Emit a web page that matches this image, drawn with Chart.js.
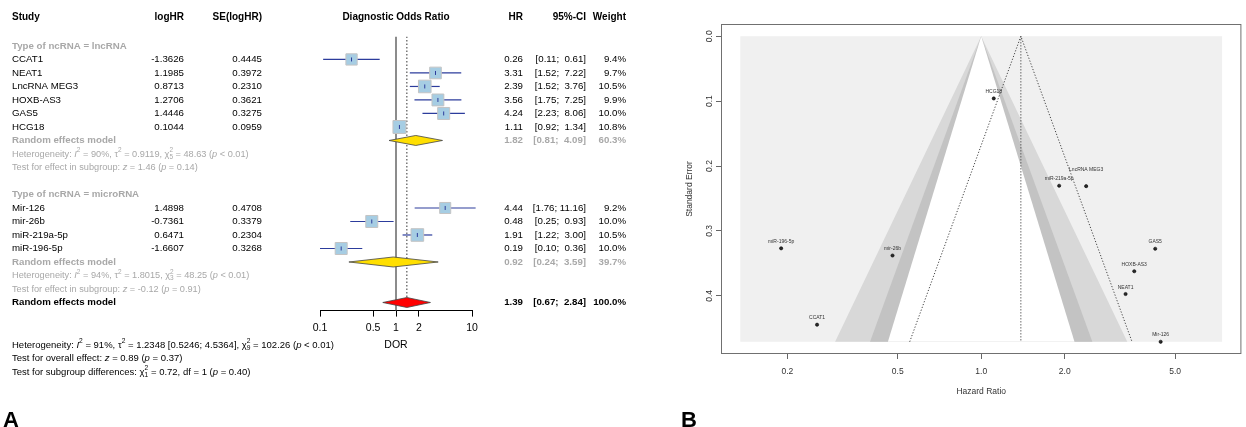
<!DOCTYPE html>
<html>
<head>
<meta charset="utf-8">
<script src="https://cdn.jsdelivr.net/npm/chart.js@4.4.1/dist/chart.umd.min.js"></script>
<style>
  html, body { margin: 0; padding: 0; background: #fff; }
  #wrap { position: relative; width: 1246px; height: 427px; overflow: hidden; }
  canvas { position: absolute; top: 0; }
  #forest { left: 0; }
  #funnel { left: 660px; }
</style>
</head>
<body>
<div id="wrap">
  <canvas id="forest" width="660" height="427"></canvas>
  <canvas id="funnel" width="586" height="427"></canvas>
</div>
<script>
// --- Data ---
const studies = ['CCAT1', 'NEAT1', 'LncRNA MEG3', 'HOXB-AS3', 'GAS5', 'HCG18', 'Mir-126', 'mir-26b', 'miR-219a-5p', 'miR-196-5p'];
const ncType = ['lncRNA', 'lncRNA', 'lncRNA', 'lncRNA', 'lncRNA', 'lncRNA', 'microRNA', 'microRNA', 'microRNA', 'microRNA'];
const logHR = [-1.3626, 1.1985, 0.8713, 1.2706, 1.4446, 0.1044, 1.4898, -0.7361, 0.6471, -1.6607];
const seLogHR = [0.4445, 0.3972, 0.2310, 0.3621, 0.3275, 0.0959, 0.4708, 0.3379, 0.2304, 0.3268];
const hr = [0.26, 3.31, 2.39, 3.56, 4.24, 1.11, 4.44, 0.48, 1.91, 0.19];
const ciLow = [0.11, 1.52, 1.52, 1.75, 2.23, 0.92, 1.76, 0.25, 1.22, 0.10];
const ciHigh = [0.61, 7.22, 3.76, 7.25, 8.06, 1.34, 11.16, 0.93, 3.00, 0.36];
const weights = [9.4, 9.7, 10.5, 9.9, 10.0, 10.8, 9.2, 10.0, 10.5, 10.0];

const groups = ['lncRNA', 'microRNA'];
const groupHR = [1.82, 0.92];
const groupLow = [0.81, 0.24];
const groupHigh = [4.09, 3.59];
const groupWeight = [60.3, 39.7];
const overallHR = 1.39;
const overallLow = 0.67;
const overallHigh = 2.84;

const forestTicks = [0.1, 0.5, 1, 2, 10];
const funnelTicksX = [0.2, 0.5, 1, 2, 5];
const funnelTicksY = [0, 0.1, 0.2, 0.3, 0.4];
const contourZ = [2.576, 1.96, 1.645];     // p = 0.01, 0.05, 0.10
const contourLogRange = [-2, 2];

const FONT = '"Liberation Sans", Arial, sans-serif';
Chart.defaults.font.family = FONT;
const GREY = '#a8a8a8';
const BLUE = '#2c3c9c';

// rich text pieces: plain string, {it: 'p'}, {sup: '2', sub: '5'}
const it = t => ({ it: t });
const ss = (sup, sub) => ({ sup, sub });

const groupHet = [
    ['Heterogeneity: ', it('I'), ss('2'), ' = 90%, \u03c4', ss('2'), ' = 0.9119, \u03c7', ss('2', '5'), ' = 48.63 (', it('p'), ' < 0.01)'],
    ['Heterogeneity: ', it('I'), ss('2'), ' = 94%, \u03c4', ss('2'), ' = 1.8015, \u03c7', ss('2', '3'), ' = 48.25 (', it('p'), ' < 0.01)']
];
const groupTest = [
    ['Test for effect in subgroup: ', it('z'), ' = 1.46 (', it('p'), ' = 0.14)'],
    ['Test for effect in subgroup: ', it('z'), ' = -0.12 (', it('p'), ' = 0.91)']
];
const overallNotes = [
    ['Heterogeneity: ', it('I'), ss('2'), ' = 91%, \u03c4', ss('2'), ' = 1.2348 [0.5246; 4.5364], \u03c7', ss('2', '9'), ' = 102.26 (', it('p'), ' < 0.01)'],
    ['Test for overall effect: ', it('z'), ' = 0.89 (', it('p'), ' = 0.37)'],
    ['Test for subgroup differences: \u03c7', ss('2', '1'), ' = 0.72, df = 1 (', it('p'), ' = 0.40)']
];

// --- Row layout of the forest plot ---
const studyRow = [], titleRow = [], remRow = [];
let r = 0;
groups.forEach((g, gi) => {
    titleRow.push(r); r++;
    studies.forEach((s, i) => { if (ncType[i] === g) { studyRow[i] = r; r++; } });
    remRow.push(r); r += 3;
    if (gi < groups.length - 1) r++;
});
const overallRow = r;

function drawRich(ctx, x, y, segs, size, color, bold) {
    let cx = x;
    ctx.fillStyle = color;
    ctx.textAlign = 'left';
    ctx.textBaseline = 'middle';
    segs.forEach(s => {
        if (typeof s === 'string') s = { t: s };
        const w8 = bold ? 'bold ' : '';
        if (s.sup !== undefined) {
            ctx.font = w8 + (size * 0.7) + 'px ' + FONT;
            let w = ctx.measureText(s.sup).width;
            ctx.fillText(s.sup, cx, y - size * 0.4);
            if (s.sub) {
                ctx.fillText(s.sub, cx, y + size * 0.3);
                w = Math.max(w, ctx.measureText(s.sub).width);
            }
            cx += w;
        } else {
            const t = s.it !== undefined ? s.it : s.t;
            ctx.font = (s.it !== undefined ? 'italic ' : '') + w8 + size + 'px ' + FONT;
            ctx.fillText(t, cx, y);
            cx += ctx.measureText(t).width;
        }
    });
}

function txt(ctx, t, x, y, align, size, color, bold) {
    ctx.font = (bold ? 'bold ' : '') + size + 'px ' + FONT;
    ctx.fillStyle = color;
    ctx.textAlign = align;
    ctx.textBaseline = 'middle';
    ctx.fillText(t, x, y);
}

const ciText = (lo, hi) => '[' + lo.toFixed(2) + '; ' + (hi < 10 ? ' ' : '') + hi.toFixed(2) + ']';

// --- Forest plot ---
const forestText = {
    id: 'forestText',
    afterDraw(chart) {
        const ctx = chart.ctx;
        const py = v => chart.scales.y.getPixelForValue(v);
        const fs = 9.7;
        const col = { study: 12, logHR: 184, se: 262, hr: 523, ci: 586, w: 626 };
        ctx.save();
        let y = py(-2.15);
        txt(ctx, 'Study', col.study, y, 'left', 10, '#000', true);
        txt(ctx, 'logHR', col.logHR, y, 'right', 10, '#000', true);
        txt(ctx, 'SE(logHR)', col.se, y, 'right', 10, '#000', true);
        txt(ctx, 'Diagnostic Odds Ratio', chart.scales.x.getPixelForValue(1), y, 'center', 10, '#000', true);
        txt(ctx, 'HR', col.hr, y, 'right', 10, '#000', true);
        txt(ctx, '95%-CI', col.ci, y, 'right', 10, '#000', true);
        txt(ctx, 'Weight', col.w, y, 'right', 10, '#000', true);

        groups.forEach((g, gi) => {
            txt(ctx, 'Type of ncRNA = ' + g, col.study, py(titleRow[gi]), 'left', fs, GREY, true);
            y = py(remRow[gi]);
            txt(ctx, 'Random effects model', col.study, y, 'left', fs, GREY, true);
            txt(ctx, groupHR[gi].toFixed(2), col.hr, y, 'right', fs, GREY, true);
            txt(ctx, ciText(groupLow[gi], groupHigh[gi]), col.ci, y, 'right', fs, GREY, true);
            txt(ctx, groupWeight[gi].toFixed(1) + '%', col.w, y, 'right', fs, GREY, true);
            drawRich(ctx, col.study, py(remRow[gi] + 1), groupHet[gi], 9.2, GREY, false);
            drawRich(ctx, col.study, py(remRow[gi] + 2), groupTest[gi], 9.2, GREY, false);
        });

        studies.forEach((s, i) => {
            y = py(studyRow[i]);
            txt(ctx, s, col.study, y, 'left', fs, '#000', false);
            txt(ctx, logHR[i].toFixed(4), col.logHR, y, 'right', fs, '#000', false);
            txt(ctx, seLogHR[i].toFixed(4), col.se, y, 'right', fs, '#000', false);
            txt(ctx, hr[i].toFixed(2), col.hr, y, 'right', fs, '#000', false);
            txt(ctx, ciText(ciLow[i], ciHigh[i]), col.ci, y, 'right', fs, '#000', false);
            txt(ctx, weights[i].toFixed(1) + '%', col.w, y, 'right', fs, '#000', false);
        });

        y = py(overallRow);
        txt(ctx, 'Random effects model', col.study, y, 'left', fs, '#000', true);
        txt(ctx, overallHR.toFixed(2), col.hr, y, 'right', fs, '#000', true);
        txt(ctx, ciText(overallLow, overallHigh), col.ci, y, 'right', fs, '#000', true);
        txt(ctx, '100.0%', col.w, y, 'right', fs, '#000', true);

        overallNotes.forEach((line, k) => {
            drawRich(ctx, col.study, py(overallRow + 3.15 + k), line, 9.5, '#000', false);
        });

        ctx.font = 'bold 22px ' + FONT;
        ctx.fillStyle = '#000';
        ctx.textAlign = 'left';
        ctx.textBaseline = 'alphabetic';
        ctx.fillText('A', 3, 426.5);
        ctx.restore();
    }
};

const forestSets = [];
forestSets.push({
    data: [{ x: 1, y: -0.7 }, { x: 1, y: overallRow + 0.6 }],
    showLine: true, borderColor: '#8c8c8c', borderWidth: 2, pointRadius: 0, order: 10
});
forestSets.push({
    data: [{ x: overallHR, y: -0.7 }, { x: overallHR, y: overallRow + 0.3 }],
    showLine: true, borderColor: '#333', borderWidth: 1, borderDash: [1.5, 2], pointRadius: 0, order: 9
});
studies.forEach((s, i) => {
    forestSets.push({
        data: [{ x: ciLow[i], y: studyRow[i] }, { x: ciHigh[i], y: studyRow[i] }],
        showLine: true, borderColor: BLUE, borderWidth: 1.2, pointRadius: 0, clip: false, order: 8
    });
});
forestSets.push({
    data: studies.map((s, i) => ({ x: hr[i], y: studyRow[i] })),
    pointStyle: 'rect', pointRadius: weights.map(w => w * 1.2 / Math.SQRT2),
    backgroundColor: '#a6cde3', borderColor: '#c4c4c4', borderWidth: 1, order: 6
});
forestSets.push({
    data: studies.map((s, i) => ({ x: hr[i], y: studyRow[i] })),
    pointStyle: 'line', rotation: 90, pointRadius: 2,
    borderColor: BLUE, borderWidth: 1, order: 5
});
function diamond(est, lo, hi, row) {
    return [{ x: lo, y: row }, { x: est, y: row - 0.37 }, { x: hi, y: row }, { x: est, y: row + 0.37 }, { x: lo, y: row }];
}
groups.forEach((g, gi) => {
    forestSets.push({
        data: diamond(groupHR[gi], groupLow[gi], groupHigh[gi], remRow[gi]),
        showLine: true, fill: 'shape', backgroundColor: '#ffdf00', borderColor: '#444',
        borderWidth: 0.8, pointRadius: 0, order: 2
    });
});
forestSets.push({
    data: diamond(overallHR, overallLow, overallHigh, overallRow),
    showLine: true, fill: 'shape', backgroundColor: '#ff0000', borderColor: '#444',
    borderWidth: 0.8, pointRadius: 0, order: 1
});

new Chart(document.getElementById('forest'), {
    type: 'scatter',
    data: { datasets: forestSets },
    options: {
        responsive: false, animation: false, events: [],
        layout: { padding: { left: 320, right: 188, top: 36.5, bottom: 75.4 } },
        plugins: { legend: { display: false }, tooltip: { enabled: false } },
        scales: {
            x: {
                type: 'logarithmic', min: 0.1, max: 10,
                afterBuildTicks: s => { s.ticks = forestTicks.map(v => ({ value: v })); },
                afterFit: s => { s.height = 41; },
                ticks: { callback: v => String(v), autoSkip: false, maxRotation: 0, padding: 5, color: '#000', font: { size: 10.5 } },
                grid: { drawOnChartArea: false, drawTicks: true, tickLength: 6, color: '#000' },
                border: { display: true, color: '#000', width: 1 },
                title: { display: true, text: 'DOR', color: '#000', font: { size: 10.5 }, padding: 0 }
            },
            y: { type: 'linear', reverse: true, min: -0.7, max: overallRow + 0.6, display: false }
        }
    },
    plugins: [forestText]
});

// --- Funnel plot ---
const seMax = Math.max(...seLogHR);
const teOverall = Math.log(overallHR);
const xPad = 0.04 * (contourLogRange[1] - contourLogRange[0]);
const labelLift = { 'LncRNA MEG3': 10 };

const funnelSets = [];
funnelSets.push({
    data: studies.map((s, i) => ({ x: Math.exp(logHR[i]), y: seLogHR[i] })),
    pointRadius: 1.6, backgroundColor: '#2a2a2a', borderColor: '#000', borderWidth: 0.6, order: 0
});
funnelSets.push({
    data: [{ x: Math.exp(teOverall - 1.96 * seMax), y: seMax }, { x: overallHR, y: 0 }, { x: Math.exp(teOverall + 1.96 * seMax), y: seMax }],
    showLine: true, borderColor: '#444', borderWidth: 1, borderDash: [1.2, 1.8], pointRadius: 0, order: 1
});
funnelSets.push({
    data: [{ x: overallHR, y: 0 }, { x: overallHR, y: seMax }],
    showLine: true, borderColor: '#444', borderWidth: 1, borderDash: [1.2, 1.8], pointRadius: 0, order: 1
});
const contourColors = ['#d8d8d8', '#c3c3c3', '#ffffff'];
contourZ.forEach((z, k) => {
    funnelSets.push({
        data: [{ x: Math.exp(-z * seMax), y: seMax }, { x: 1, y: 0 }, { x: Math.exp(z * seMax), y: seMax }, { x: Math.exp(-z * seMax), y: seMax }],
        showLine: true, fill: 'shape', backgroundColor: contourColors[k], borderWidth: 0, pointRadius: 0, order: 4 - k
    });
});
funnelSets.push({
    data: [
        { x: Math.exp(contourLogRange[0]), y: 0 }, { x: Math.exp(contourLogRange[1]), y: 0 },
        { x: Math.exp(contourLogRange[1]), y: seMax }, { x: Math.exp(contourLogRange[0]), y: seMax },
        { x: Math.exp(contourLogRange[0]), y: 0 }
    ],
    showLine: true, fill: 'shape', backgroundColor: '#f0f0f0', borderWidth: 0, pointRadius: 0, order: 6
});

const funnelDeco = {
    id: 'funnelDeco',
    afterDatasetsDraw(chart) {
        const ctx = chart.ctx;
        const meta = chart.getDatasetMeta(0);
        ctx.save();
        ctx.font = '5px ' + FONT;
        ctx.fillStyle = '#333';
        ctx.textAlign = 'center';
        ctx.textBaseline = 'alphabetic';
        meta.data.forEach((pt, i) => {
            ctx.fillText(studies[i], pt.x, pt.y - 5.5 - (labelLift[studies[i]] || 0));
        });
        ctx.restore();
    },
    afterDraw(chart) {
        const ctx = chart.ctx;
        const a = chart.chartArea;
        ctx.save();
        ctx.strokeStyle = '#707070';
        ctx.lineWidth = 1;
        ctx.strokeRect(a.left + 0.5, a.top + 0.5, a.right - a.left - 1, a.bottom - a.top - 1);
        ctx.font = 'bold 22px ' + FONT;
        ctx.fillStyle = '#000';
        ctx.textAlign = 'left';
        ctx.textBaseline = 'alphabetic';
        ctx.fillText('B', 21, 426.5);
        ctx.restore();
    }
};

new Chart(document.getElementById('funnel'), {
    type: 'scatter',
    data: { datasets: funnelSets },
    options: {
        responsive: false, animation: false, events: [],
        layout: { padding: { left: 20, right: 4, top: 24, bottom: 30.2 } },
        plugins: { legend: { display: false }, tooltip: { enabled: false } },
        scales: {
            x: {
                type: 'logarithmic',
                min: Math.exp(contourLogRange[0] - xPad), max: Math.exp(contourLogRange[1] + xPad),
                afterBuildTicks: s => { s.ticks = funnelTicksX.map(v => ({ value: v })); },
                afterFit: s => { s.height = 42.8; },
                ticks: { callback: v => Number(v).toFixed(1), autoSkip: false, maxRotation: 0, padding: 7.6, color: '#333', font: { size: 8.5 } },
                grid: { drawOnChartArea: false, drawTicks: true, tickLength: 5, color: '#666' },
                border: { display: false },
                title: { display: true, text: 'Hazard Ratio', color: '#333', font: { size: 8.5 }, padding: 0 }
            },
            y: {
                type: 'linear', reverse: true, min: -0.04 * seMax, max: 1.04 * seMax,
                afterBuildTicks: s => { s.ticks = funnelTicksY.map(v => ({ value: v })); },
                afterFit: s => { s.width = 41; },
                ticks: { callback: v => Number(v).toFixed(1), autoSkip: false, minRotation: 90, maxRotation: 90, crossAlign: 'center', padding: 0, color: '#333', font: { size: 8.5 } },
                grid: { drawOnChartArea: false, drawTicks: true, tickLength: 5, color: '#666' },
                border: { display: false },
                title: { display: true, text: 'Standard Error', color: '#333', font: { size: 8.5 }, padding: { top: 4.9, bottom: 0 } }
            }
        }
    },
    plugins: [funnelDeco]
});
</script>
</body>
</html>
